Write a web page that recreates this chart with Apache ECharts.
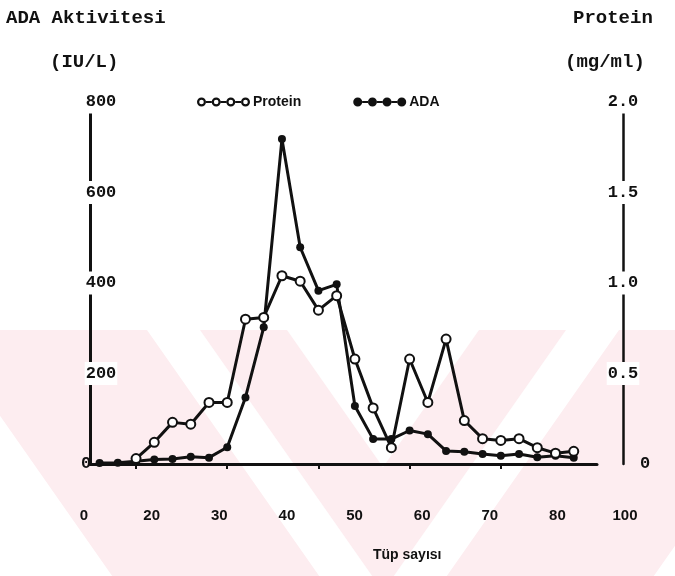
<!DOCTYPE html>
<html>
<head>
<meta charset="utf-8">
<script src="https://cdn.jsdelivr.net/npm/echarts@6/dist/echarts.min.js"></script>
<style>
  html, body { margin: 0; padding: 0; background: #fff; }
  #chart { width: 675px; height: 576px; }
</style>
</head>
<body>
<div id="chart"></div>
<script>
// Fraction (tube) numbers along the elution profile
const tubes = [6, 8, 10, 12, 14, 16, 18, 20, 22, 24, 26, 28, 30, 32, 34, 36, 38, 40, 42, 44, 46, 48, 50, 52, 54, 56, 58];

// Protein concentration per tube (mg/ml), right axis
const proteinValues = [null, null, 0.03, 0.12, 0.23, 0.22, 0.34, 0.34, 0.80, 0.81, 1.04, 1.01, 0.85, 0.93,
  0.58, 0.31, 0.09, 0.58, 0.34, 0.69, 0.24, 0.14, 0.13, 0.14, 0.09, 0.06, 0.07];

// ADA activity per tube (IU/L), left axis
const adaValues = [2, 3, 6, 10, 11, 16, 14, 37, 147, 302, 718, 479, 383, 397,
  128, 55, 55, 74, 66, 29, 27, 22, 18, 22, 15, 18, 14];

// Tick marks on the tube axis
const tubeTickMarks = [10, 20, 30, 40, 50];

// Printed scale under the tube axis
const tubeLabelSlots = [10, 20, 30, 40, 50, 60, 70, 80, 90];
const tubeLabels = ['0', '20', '30', '40', '50', '60', '70', '80', '100'];

// Left and right value scales
const adaTicks = { min: 0, max: 800, step: 200 };
const proteinTicks = { min: 0, max: 2, step: 0.5 };

const INK = '#111';
const MONO = "'Liberation Mono', 'DejaVu Sans Mono', monospace";
const SANS = "'Liberation Sans', Arial, sans-serif";

// Legend glyphs: four linked rings / four linked dots
function circlePath(cx, cy, r, sweep) {
  return `M${cx - r},${cy} A${r},${r} 0 1 ${sweep} ${cx + r},${cy} A${r},${r} 0 1 ${sweep} ${cx - r},${cy} Z `;
}
function chainIcon(open) {
  const cy = 4.5, ro = 4.5, ri = 2.3;
  const centers = [4.5, 19.2, 33.8, 48.5];
  let d = '';
  centers.forEach((cx, k) => {
    d += circlePath(cx, cy, ro, 0);
    if (open) d += circlePath(cx, cy, ri, 1);
    if (k < centers.length - 1) {
      const x1 = cx + ro - 0.2, x2 = centers[k + 1] - ro + 0.2;
      d += `M${x1},${cy - 1} L${x2},${cy - 1} L${x2},${cy + 1} L${x1},${cy + 1} Z `;
    }
  });
  return 'path://' + d;
}

// Pale chevron bands in the lower background
function chevron(c, top, wo, wi, s) {
  return [
    [c - wo, top], [c, top + wo / s], [c + wo, top],
    [c + wi, top], [c, top + wi / s], [c - wi, top]
  ];
}
const bandColor = '#fdedf0';

// Axis label styles: plain labels sit on the axis line over a white patch,
// the zero labels sit beside the line
const leftLabelRich = {
  b: { fontFamily: MONO, fontWeight: 'bold', fontSize: 17, color: INK, backgroundColor: '#fff', padding: [3, 1] },
  z: { fontFamily: MONO, fontWeight: 'bold', fontSize: 17, color: INK, padding: [0, 30, 0, 0] }
};
const rightLabelRich = {
  b: { fontFamily: MONO, fontWeight: 'bold', fontSize: 17, color: INK, backgroundColor: '#fff', padding: [3, 1] },
  z: { fontFamily: MONO, fontWeight: 'bold', fontSize: 17, color: INK, padding: [0, 0, 0, 44] }
};

const chart = echarts.init(document.getElementById('chart'), null, { renderer: 'canvas' });

chart.setOption({
  animation: false,
  backgroundColor: '#fff',
  title: [
    { text: 'ADA Aktivitesi', left: 6, top: 9, padding: 0,
      textStyle: { fontFamily: MONO, fontWeight: 'bold', fontSize: 19, color: INK } },
    { text: '(IU/L)', left: 50, top: 53, padding: 0,
      textStyle: { fontFamily: MONO, fontWeight: 'bold', fontSize: 19, color: INK } },
    { text: 'Protein', left: 573, top: 9, padding: 0,
      textStyle: { fontFamily: MONO, fontWeight: 'bold', fontSize: 19, color: INK } },
    { text: '(mg/ml)', left: 565, top: 53, padding: 0,
      textStyle: { fontFamily: MONO, fontWeight: 'bold', fontSize: 19, color: INK } },
    { text: 'Tüp sayısı', left: 373, top: 548, padding: 0,
      textStyle: { fontFamily: SANS, fontWeight: 'bold', fontSize: 14, color: INK } }
  ],
  legend: {
    left: 197, top: 95, padding: 0,
    itemWidth: 53, itemHeight: 9, itemGap: 52,
    selectedMode: false,
    textStyle: { fontFamily: SANS, fontWeight: 'bold', fontSize: 14, color: INK, padding: [0, 0, 0, -2] },
    data: [
      { name: 'Protein', icon: chainIcon(true), itemStyle: { color: INK, borderWidth: 0 } },
      { name: 'ADA', icon: chainIcon(false), itemStyle: { color: INK, borderWidth: 0 } }
    ]
  },
  graphic: [
    { type: 'polygon', z: -10, silent: true, shape: { points: chevron(383, 330, 443, 236, 0.7) }, style: { fill: bandColor } },
    { type: 'polygon', z: -10, silent: true, shape: { points: chevron(383, 330, 183, 96, 0.7) }, style: { fill: bandColor } }
  ],
  grid: [
    { left: 90, right: 78, top: 102, bottom: 112 },
    { left: 84, right: 50, top: 102, bottom: 112 }
  ],
  xAxis: [
    {
      type: 'value', gridIndex: 0, min: 4.95, max: 60.55,
      axisLine: { show: true, onZero: false, lineStyle: { color: INK, width: 3 } },
      axisTick: { show: true, customValues: tubeTickMarks, length: 5, lineStyle: { color: INK, width: 2 } },
      axisLabel: { show: false },
      splitLine: { show: false }
    },
    {
      type: 'value', gridIndex: 1, min: tubeLabelSlots[0], max: tubeLabelSlots[tubeLabelSlots.length - 1],
      axisLine: { show: false },
      axisTick: { show: false },
      splitLine: { show: false },
      axisLabel: {
        customValues: tubeLabelSlots,
        margin: 44,
        formatter: v => tubeLabels[tubeLabelSlots.indexOf(v)],
        fontFamily: SANS, fontWeight: 'bold', fontSize: 15, color: INK
      }
    }
  ],
  yAxis: [
    {
      type: 'value', gridIndex: 0, position: 'left',
      min: adaTicks.min, max: adaTicks.max, interval: adaTicks.step,
      axisLine: { show: true, lineStyle: { color: INK, width: 3 } },
      axisTick: { show: false },
      splitLine: { show: false },
      axisLabel: {
        align: 'center', margin: -11,
        formatter: v => (v === 0 ? '{z|0}' : '{b|' + v + '}'),
        rich: leftLabelRich
      }
    },
    {
      type: 'value', gridIndex: 0, position: 'right', offset: 26,
      min: proteinTicks.min, max: proteinTicks.max, interval: proteinTicks.step,
      axisLine: { show: true, lineStyle: { color: INK, width: 2.5 } },
      axisTick: { show: false },
      splitLine: { show: false },
      axisLabel: {
        align: 'center', margin: 0,
        formatter: v => (v === 0 ? '{z|0}' : '{b|' + v.toFixed(1) + '}'),
        rich: rightLabelRich
      }
    },
    { type: 'value', gridIndex: 1, show: false }
  ],
  series: [
    {
      name: 'ADA', type: 'line', xAxisIndex: 0, yAxisIndex: 0, z: 3,
      data: tubes.map((t, k) => [t, adaValues[k]]),
      symbol: 'circle', symbolSize: 8,
      itemStyle: { color: INK },
      lineStyle: { color: INK, width: 3 }
    },
    {
      name: 'Protein', type: 'line', xAxisIndex: 0, yAxisIndex: 1, z: 4,
      data: tubes.map((t, k) => [t, proteinValues[k]]),
      symbol: 'emptyCircle', symbolSize: 9,
      itemStyle: { color: INK, borderWidth: 2.2 },
      lineStyle: { color: INK, width: 3 }
    }
  ]
});
</script>
</body>
</html>
